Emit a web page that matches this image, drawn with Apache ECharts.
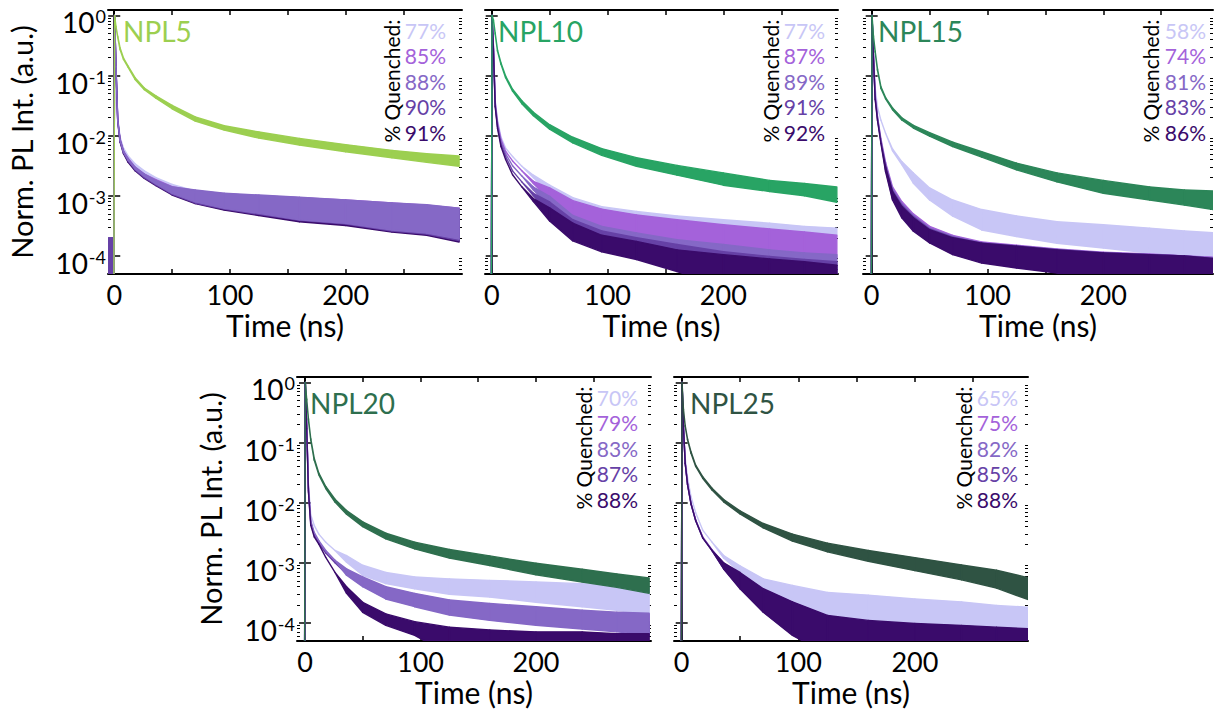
<!DOCTYPE html>
<html><head><meta charset="utf-8">
<script src="https://cdn.jsdelivr.net/npm/echarts@6/dist/echarts.min.js"></script>
<style>html,body{margin:0;padding:0;background:#fff}#c{width:1221px;height:719px}</style>
</head><body><div id="c"></div>
<script>
// ---------- shared time grid (ns) ----------
const T = [-5, -0.3, 0.3, 1.5, 3, 5, 8, 12, 18, 26, 36, 50, 70, 95, 125, 160, 200, 240, 270, 298];

// ---------- tick labels / texts ----------
const xTickValues = [0, 50, 100, 150, 200, 250];
const xLabelValues = [0, 100, 200];
const titles = ['NPL5', 'NPL10', 'NPL15', 'NPL20', 'NPL25'];
const pct5  = ['77%', '85%', '88%', '90%', '91%'];
const pct10 = ['77%', '87%', '89%', '91%', '92%'];
const pct15 = ['58%', '74%', '81%', '83%', '86%'];
const pct20 = ['70%', '79%', '83%', '87%', '88%'];
const pct25 = ['65%', '75%', '82%', '85%', '88%'];

// ---------- NPL5 (upper / lower envelope of each noisy trace) ----------
const g5_hi = [3e-5,3e-5,1,0.66,0.45,0.29,0.195,0.143,0.092,0.062,0.046,0.032,0.0205,0.0146,0.0115,0.009,0.0071,0.0057,0.005,0.0046];
const g5_lo = [3e-5,3e-5,1,0.64,0.43,0.27,0.185,0.137,0.086,0.058,0.042,0.028,0.0175,0.0124,0.0091,0.007,0.0054,0.0043,0.0036,0.0031];
const p5_77_hi = [3e-5,3e-5,1,0.15,0.02,0.0095,0.0062,0.0046,0.0034,0.0026,0.002,0.00155,0.0012,0.001,0.00093,0.00085,0.00078,0.0007,0.00065,0.0006];
const p5_77_lo = [3e-5,3e-5,1,0.15,0.02,0.0092,0.006,0.0044,0.0032,0.0024,0.0018,0.0012,0.0008,0.00064,0.00053,0.00043,0.00037,0.0003,0.00027,0.00022];
const p5_85_hi = [3e-5,3e-5,1,0.14,0.019,0.0088,0.0056,0.0042,0.003,0.0023,0.00185,0.00142,0.00122,0.00108,0.001,0.00093,0.00085,0.00076,0.0007,0.00062];
const p5_85_lo = [3e-5,3e-5,1,0.14,0.019,0.0085,0.0054,0.004,0.0028,0.0021,0.0016,0.00112,0.0008,0.00063,0.00052,0.00041,0.00035,0.00028,0.00024,0.0002];
const p5_88_hi = [3e-5,3e-5,1,0.14,0.018,0.0087,0.0055,0.0041,0.003,0.0023,0.0018,0.0014,0.00125,0.0011,0.00103,0.00095,0.00085,0.00076,0.00071,0.00062];
const p5_88_lo = [3e-5,3e-5,1,0.14,0.018,0.0083,0.0053,0.0039,0.0028,0.0021,0.00158,0.0011,0.00079,0.00062,0.00051,0.0004,0.00035,0.00027,0.00024,0.00019];
const p5_90_hi = [2e-4,2e-4,1,0.135,0.018,0.0085,0.0054,0.004,0.0029,0.0022,0.00175,0.00135,0.0012,0.00105,0.00098,0.0009,0.00082,0.00074,0.00068,0.0006];
const p5_90_lo = [3e-5,3e-5,1,0.135,0.018,0.0081,0.0052,0.0038,0.0027,0.002,0.00152,0.00106,0.00076,0.0006,0.00049,0.00039,0.00034,0.00026,0.00023,0.00018];
const p5_91_hi = [3e-5,3e-5,1,0.13,0.017,0.0082,0.0052,0.0038,0.0028,0.0021,0.0017,0.0013,0.00115,0.001,0.00094,0.00086,0.0008,0.00072,0.00066,0.00058];
const p5_91_lo = [3e-5,3e-5,1,0.13,0.017,0.0078,0.005,0.0036,0.0026,0.00195,0.00148,0.00103,0.00074,0.00058,0.00047,0.00037,0.00032,0.00025,0.00022,0.00017];

// ---------- NPL10 ----------
const g10_hi = [3e-5,3e-5,1,0.84,0.51,0.265,0.162,0.098,0.059,0.038,0.0245,0.0152,0.0094,0.0061,0.0043,0.0032,0.0024,0.0018,0.0016,0.0014];
const g10_lo = [3e-5,3e-5,1,0.82,0.49,0.255,0.154,0.092,0.055,0.034,0.0215,0.0128,0.0076,0.0047,0.0031,0.0022,0.0015,0.00118,0.001,0.00078];
const p10_77_hi = [3e-5,3e-5,1,0.316,0.0389,0.0182,0.0095,0.0062,0.0045,0.0031,0.0022,0.0015,0.00093,0.00066,0.00055,0.00046,0.0004,0.00035,0.00031,0.00029];
const p10_77_lo = [3e-5,3e-5,1,0.316,0.0389,0.0182,0.0095,0.0062,0.0045,0.0031,0.002,0.0011,0.00062,0.00048,0.0004,0.00033,0.00029,0.00026,0.00022,0.00021];
const p10_87_hi = [3e-5,3e-5,1,0.302,0.0363,0.0166,0.0087,0.0055,0.0038,0.0026,0.00174,0.00135,0.00083,0.0006,0.00048,0.0004,0.00033,0.00028,0.00025,0.00022];
const p10_87_lo = [3e-5,3e-5,1,0.302,0.0363,0.0166,0.0087,0.0055,0.0038,0.0026,0.0016,0.00085,0.0004,0.00029,0.00022,0.00017,0.000135,0.000117,0.000105,0.000093];
const p10_89_hi = [3e-5,3e-5,1,0.282,0.0339,0.0151,0.0079,0.005,0.00316,0.00214,0.0014,0.00098,0.00047,0.00031,0.00024,0.000186,0.000155,0.000126,0.000112,0.000105];
const p10_89_lo = [3e-5,3e-5,1,0.282,0.0339,0.0151,0.0079,0.005,0.00316,0.00214,0.00125,0.00066,0.00028,0.00019,0.000135,9.8e-5,6.8e-5,5.9e-5,5.2e-5,4e-5];
const p10_91_hi = [3e-5,3e-5,1,0.269,0.0316,0.0141,0.0072,0.0045,0.0026,0.0017,0.0011,0.00079,0.0004,0.00026,0.0002,0.000155,0.000117,9.8e-5,8.7e-5,8e-5];
const p10_91_lo = [3e-5,3e-5,1,0.269,0.0316,0.0141,0.0072,0.0045,0.0026,0.0017,0.001,0.0005,0.00024,0.000155,0.000112,7.1e-5,4e-5,3e-5,3e-5,3e-5];
const p10_92_hi = [3e-5,3e-5,1,0.251,0.0302,0.0132,0.0066,0.004,0.00224,0.00141,0.0009,0.00063,0.00035,0.00022,0.000174,0.000126,0.000105,8.9e-5,8e-5,7e-5];
const p10_92_lo = [3e-5,3e-5,1,0.251,0.0302,0.0132,0.0066,0.004,0.00224,0.00141,0.0008,0.00038,0.000178,0.000117,8.7e-5,5.5e-5,3e-5,3e-5,3e-5,3e-5];

// ---------- NPL15 ----------
const g15_hi = [3e-5,3e-5,1,0.46,0.255,0.129,0.065,0.043,0.029,0.0198,0.0148,0.0112,0.0078,0.0054,0.0035,0.0024,0.0018,0.0014,0.00125,0.0012];
const g15_lo = [3e-5,3e-5,1,0.44,0.245,0.123,0.061,0.041,0.027,0.0182,0.0134,0.0098,0.0066,0.0044,0.0027,0.0017,0.0011,0.00085,0.0007,0.00058];
const p15_58_hi = [3e-5,3e-5,1,0.25,0.063,0.03,0.018,0.011,0.006,0.0037,0.0024,0.00135,0.00085,0.00059,0.00046,0.00037,0.00033,0.00029,0.00026,0.00024];
const p15_58_lo = [3e-5,3e-5,1,0.25,0.063,0.03,0.018,0.011,0.0056,0.0033,0.00162,0.00085,0.00046,0.00027,0.00021,0.000162,0.000135,0.000112,0.0001,8.7e-5];
const p15_74_hi = [3e-5,3e-5,1,0.22,0.048,0.021,0.0088,0.0036,0.0014,0.0008,0.0005,0.00031,0.00022,0.00017,0.00015,0.00013,0.000115,0.000108,0.0001,9.5e-5];
const p15_74_lo = [3e-5,3e-5,1,0.22,0.048,0.021,0.0088,0.0032,0.0011,0.00058,0.00033,0.0002,0.00013,9e-5,7.5e-5,6e-5,4e-5,3e-5,3e-5,3e-5];
const p15_81_hi = [3e-5,3e-5,1,0.21,0.045,0.02,0.0082,0.0033,0.0013,0.00074,0.00047,0.00029,0.00021,0.000165,0.000147,0.000128,0.000113,0.000106,0.0001,9.2e-5];
const p15_81_lo = [3e-5,3e-5,1,0.21,0.045,0.02,0.0082,0.0029,0.001,0.00052,0.0003,0.00018,0.00012,8.5e-5,7e-5,5.6e-5,3.5e-5,3e-5,3e-5,3e-5];
const p15_83_hi = [3e-5,3e-5,1,0.205,0.042,0.019,0.0078,0.0031,0.00122,0.0007,0.00045,0.00028,0.000205,0.000163,0.000146,0.000127,0.000112,0.000105,0.0001,9e-5];
const p15_83_lo = [3e-5,3e-5,1,0.205,0.042,0.019,0.0078,0.0027,0.0009,0.00047,0.00028,0.00017,0.00011,8e-5,6.6e-5,5.4e-5,3e-5,3e-5,3e-5,3e-5];
const p15_86_hi = [3e-5,3e-5,1,0.2,0.04,0.018,0.0074,0.003,0.00117,0.00066,0.00043,0.000272,0.0002,0.000162,0.000145,0.000126,0.000112,0.000105,0.0001,9e-5];
const p15_86_lo = [3e-5,3e-5,1,0.2,0.04,0.018,0.0074,0.0025,0.00085,0.00043,0.000257,0.000164,0.000105,7.6e-5,6.3e-5,5.2e-5,3e-5,3e-5,3e-5,3e-5];

// ---------- NPL20 ----------
const g20_hi = [3e-5,3e-5,1,0.53,0.25,0.116,0.055,0.031,0.0186,0.0114,0.0074,0.0048,0.0031,0.0022,0.00166,0.0013,0.00098,0.00078,0.00065,0.00056];
const g20_lo = [3e-5,3e-5,1,0.51,0.238,0.11,0.051,0.029,0.0172,0.0102,0.0064,0.004,0.0025,0.0017,0.0012,0.0009,0.00063,0.00048,0.00039,0.00031];
const p20_70_hi = [3e-5,3e-5,1,0.2,0.02,0.0063,0.0042,0.003,0.0022,0.0016,0.00132,0.00091,0.00069,0.00058,0.00054,0.00051,0.00048,0.00045,0.00042,0.00039];
const p20_70_lo = [3e-5,3e-5,1,0.2,0.02,0.0063,0.0042,0.003,0.0022,0.0016,0.00102,0.00062,0.00045,0.00037,0.0003,0.00027,0.00022,0.000186,0.000162,0.000135];
const p20_79_hi = [3e-5,3e-5,1,0.185,0.017,0.0048,0.003,0.0022,0.0015,0.00104,0.00075,0.00055,0.00038,0.00029,0.00023,0.0002,0.000177,0.000154,0.000143,0.000138];
const p20_79_lo = [3e-5,3e-5,1,0.185,0.017,0.0048,0.003,0.0022,0.0015,0.00104,0.00065,0.00042,0.00026,0.000195,0.00014,0.000115,9.5e-5,8.3e-5,7.5e-5,6.5e-5];
const p20_83_hi = [3e-5,3e-5,1,0.19,0.018,0.005,0.0032,0.00234,0.0016,0.0011,0.00079,0.00058,0.0004,0.00031,0.00024,0.00021,0.000186,0.000162,0.000151,0.000145];
const p20_83_lo = [3e-5,3e-5,1,0.19,0.018,0.005,0.0032,0.00234,0.0016,0.0011,0.00062,0.0004,0.00025,0.000186,0.000135,0.00011,9.1e-5,7.9e-5,7.1e-5,6.2e-5];
const p20_87_hi = [3e-5,3e-5,1,0.18,0.016,0.0046,0.0029,0.0021,0.00145,0.001,0.0007,0.0005,0.00033,0.00025,0.00019,0.00016,0.00014,0.00012,0.00011,0.000105];
const p20_87_lo = [3e-5,3e-5,1,0.18,0.016,0.0046,0.0029,0.0021,0.00145,0.001,0.00065,0.00042,0.00026,0.000195,0.00014,0.000115,9.5e-5,8.3e-5,7.5e-5,6.5e-5];
const p20_88_hi = [3e-5,3e-5,1,0.17,0.015,0.0042,0.0027,0.00204,0.00123,0.00069,0.0004,0.00022,0.000141,0.000105,8.5e-5,7.6e-5,7.1e-5,7.1e-5,6.6e-5,6.6e-5];
const p20_88_lo = [3e-5,3e-5,1,0.17,0.015,0.0042,0.0027,0.00204,0.00123,0.00069,0.00031,0.00015,9.1e-5,6.2e-5,3e-5,3e-5,3e-5,3e-5,3e-5,3e-5];

// ---------- NPL25 ----------
const g25_hi = [3e-5,3e-5,1,0.36,0.192,0.115,0.07,0.042,0.027,0.0174,0.0113,0.0073,0.0045,0.003,0.00212,0.0016,0.00122,0.00092,0.00075,0.00056];
const g25_lo = [3e-5,3e-5,1,0.35,0.186,0.111,0.066,0.04,0.0255,0.0162,0.0103,0.0065,0.0038,0.0023,0.00152,0.00106,0.00074,0.00052,0.00038,0.00024];
const p25_65_hi = [3e-5,3e-5,1,0.19,0.056,0.026,0.0126,0.0068,0.0035,0.0022,0.00132,0.00089,0.00054,0.00042,0.00032,0.00029,0.00025,0.000224,0.000195,0.000182];
const p25_65_lo = [3e-5,3e-5,1,0.19,0.056,0.026,0.0126,0.0068,0.0035,0.0022,0.0012,0.00069,0.00032,0.000195,0.000133,0.000104,8e-5,6.6e-5,5.9e-5,5.1e-5];
const p25_75_hi = [3e-5,3e-5,1,0.18,0.047,0.021,0.0098,0.0052,0.0027,0.00165,0.00098,0.00066,0.00036,0.00022,0.00013,0.000105,9.5e-5,8.8e-5,8.2e-5,7.8e-5];
const p25_75_lo = [3e-5,3e-5,1,0.18,0.047,0.021,0.0098,0.0052,0.0027,0.00165,0.00082,0.0004,0.00016,7e-5,3e-5,3e-5,3e-5,3e-5,3e-5,3e-5];
const p25_82_hi = [3e-5,3e-5,1,0.179,0.046,0.0205,0.0096,0.0051,0.00265,0.00162,0.00096,0.00064,0.00035,0.00021,0.000125,0.0001,9e-5,8.5e-5,8e-5,7.5e-5];
const p25_82_lo = [3e-5,3e-5,1,0.179,0.046,0.0205,0.0096,0.0051,0.00265,0.00162,0.0008,0.00039,0.000155,6.6e-5,3e-5,3e-5,3e-5,3e-5,3e-5,3e-5];
const p25_85_hi = [3e-5,3e-5,1,0.178,0.0455,0.0202,0.0095,0.00505,0.0026,0.0016,0.00097,0.00065,0.00034,0.00021,0.00012,0.0001,9e-5,8.5e-5,8e-5,7.5e-5];
const p25_85_lo = [3e-5,3e-5,1,0.178,0.0455,0.0202,0.0095,0.00505,0.0026,0.0016,0.0008,0.00038,0.000152,6.4e-5,3e-5,3e-5,3e-5,3e-5,3e-5,3e-5];
const p25_88_hi = [3e-5,3e-5,1,0.178,0.045,0.02,0.0095,0.005,0.0026,0.0016,0.001,0.00069,0.00037,0.000224,0.000133,0.00011,9.8e-5,9.1e-5,8.5e-5,8e-5];
const p25_88_lo = [3e-5,3e-5,1,0.178,0.045,0.02,0.0095,0.005,0.0026,0.0016,0.00079,0.00037,0.000151,6.2e-5,3e-5,3e-5,3e-5,3e-5,3e-5,3e-5];

// ---------- styles ----------
const Q = ['#c8c6f6', '#a462da', '#8568c6', '#6641a6', '#3a0b6b'];
const G = ['#9ccf50', '#28a464', '#2c8659', '#2e6f4e', '#2f5343'];
const FONT = 'Lato, "Open Sans", sans-serif';
const YMIN = 5e-5, YMAX = 1.23;

const panels = [
  { grid: {left:108, top:10, width:354, height:264}, xr: [-5.4, 300.5], tdx: 15, tdy: 21, qdx: -71, pdx: -16, yLab: true, pct: pct5,
    series: [[p5_77_hi,p5_77_lo,Q[0]],[p5_85_hi,p5_85_lo,Q[1]],[p5_91_hi,p5_91_lo,Q[4]],[p5_90_hi,p5_90_lo,Q[3]],[p5_88_hi,p5_88_lo,Q[2]],[g5_hi,g5_lo,G[0]]] },
  { grid: {left:485, top:10, width:353, height:264}, xr: [-5.8, 299], tdx: 13, tdy: 21, qdx: -68, pdx: -13, yLab: false, pct: pct10,
    series: [[p10_77_hi,p10_77_lo,Q[0]],[p10_87_hi,p10_87_lo,Q[1]],[p10_89_hi,p10_89_lo,Q[2]],[p10_91_hi,p10_91_lo,Q[3]],[p10_92_hi,p10_92_lo,Q[4]],[g10_hi,g10_lo,G[1]]] },
  { grid: {left:863, top:10, width:350, height:264}, xr: [-7.5, 294.7], tdx: 15, tdy: 21, qdx: -63, pdx: -7, yLab: false, pct: pct15,
    series: [[p15_58_hi,p15_58_lo,Q[0]],[p15_74_hi,p15_74_lo,Q[1]],[p15_81_hi,p15_81_lo,Q[2]],[p15_83_hi,p15_83_lo,Q[3]],[p15_86_hi,p15_86_lo,Q[4]],[g15_hi,g15_lo,G[2]]] },
  { grid: {left:297, top:377, width:354, height:264}, xr: [-6.9, 299.6], tdx: 13, tdy: 26, qdx: -68, pdx: -13, yLab: true, pct: pct20,
    series: [[p20_70_hi,p20_70_lo,Q[0]],[p20_79_hi,p20_79_lo,Q[1]],[p20_87_hi,p20_87_lo,Q[3]],[p20_83_hi,p20_83_lo,Q[2]],[p20_88_hi,p20_88_lo,Q[4]],[g20_hi,g20_lo,G[3]]] },
  { grid: {left:674, top:377, width:354, height:264}, xr: [-6.6, 297], tdx: 16, tdy: 26, qdx: -65, pdx: -10, yLab: false, pct: pct25,
    series: [[p25_65_hi,p25_65_lo,Q[0]],[p25_75_hi,p25_75_lo,Q[1]],[p25_82_hi,p25_82_lo,Q[2]],[p25_85_hi,p25_85_lo,Q[3]],[p25_88_hi,p25_88_lo,Q[4]],[g25_hi,g25_lo,G[4]]] }
];

// minor log ticks (positions in log10 space)
const LMIN = Math.log10(YMIN), LMAX = Math.log10(YMAX);
const minorTicks = [];
for (let d = -5; d <= 0; d++) for (let k = 2; k <= 9; k++) { const v = d + Math.log10(k); if (v > LMIN && v < LMAX) minorTicks.push(v); }

function supLabel(v) {
  const l = Math.log10(v), e = Math.round(l);
  if (Math.abs(l - e) > 1e-6) return '';
  return '{b|10}{s|' + e + '}';
}

const line = {color:'#000', width:2};
const grids = [], xAxes = [], yAxes = [], series = [], graphics = [];
panels.forEach((p, k) => {
  grids.push(Object.assign({show:false, containLabel:false, outerBoundsMode:'none'}, p.grid));
  const xCommon = { type:'value', gridIndex:k, min:p.xr[0], max:p.xr[1], splitLine:{show:false},
    axisLine:{show:true, onZero:false, lineStyle:line},
    axisTick:{show:true, inside:true, length:5, customValues:xTickValues, lineStyle:{color:'#000', width:1.5}} };
  xAxes.push(Object.assign({}, xCommon, { position:'bottom',
    axisLabel:{show:true, customValues:xLabelValues, margin:7, color:'#000', fontSize:27, fontFamily:FONT},
    name:'Time (ns)', nameLocation:'middle', nameGap:36, nameTextStyle:{color:'#000', fontSize:30, fontFamily:FONT} }));
  xAxes.push(Object.assign({}, xCommon, { position:'top', axisLabel:{show:false} }));
  const yCommon = { type:'log', logBase:10, gridIndex:k, min:YMIN, max:YMAX, splitLine:{show:false}, minorTick:{show:false},
    axisLine:{show:true, lineStyle:line}, axisTick:{show:true, inside:true, length:6, lineStyle:{color:'#000', width:1.5}} };
  yAxes.push(Object.assign({}, yCommon, { position:'left',
    axisLabel:{show:p.yLab, margin:2, formatter:supLabel, padding:[14, 0, 0, 0],
      rich:{ b:{fontSize:28, fontFamily:FONT, color:'#000', lineHeight:30},
             s:{fontSize:18, fontFamily:FONT, color:'#000', lineHeight:22, verticalAlign:'top', padding:[0,0,0,1]} } },
    name: p.yLab ? 'Norm. PL Int. (a.u.)' : '', nameLocation:'middle', nameGap:72,
    nameTextStyle:{color:'#000', fontSize:29, fontFamily:FONT} }));
  yAxes.push(Object.assign({}, yCommon, { position:'right', axisLabel:{show:false} }));
  const mCommon = { type:'value', gridIndex:k, min:LMIN, max:LMAX, splitLine:{show:false}, axisLine:{show:false}, axisLabel:{show:false},
    axisTick:{show:true, inside:true, length:3, customValues:minorTicks, lineStyle:{color:'#000', width:1}} };
  yAxes.push(Object.assign({}, mCommon, {position:'left'}));
  yAxes.push(Object.assign({}, mCommon, {position:'right'}));

  p.series.forEach(([hi, lo, color]) => {
    const data = T.map((t, i) => [t, hi[i], lo[i]]);
    series.push({ type:'custom', xAxisIndex:2*k, yAxisIndex:4*k, data, clip:true, silent:true,
      encode:{x:0, y:[1, 2]},
      renderItem(params, api) {
        const i = params.dataIndex;
        if (i >= data.length - 1) return null;
        const a = data[i], b = data[i + 1];
        const pts = [api.coord([a[0], a[1]]), api.coord([b[0], b[1]]), api.coord([b[0], b[2]]), api.coord([a[0], a[2]])];
        return { type:'polygon', shape:{points:pts}, style:{fill:color, stroke:color, lineWidth:1.4, lineJoin:'round'} };
      } });
  });

  const g = p.grid, right = g.left + g.width;
  graphics.push({ type:'text', x:g.left + p.tdx, y:g.top + p.tdy,
    style:{text:titles[k], fill:G[k], fontSize:28, fontFamily:FONT, align:'left', verticalAlign:'middle'} });
  graphics.push({ type:'text', x:right + p.qdx, y:g.top + 71, rotation:Math.PI / 2,
    style:{text:'% Quenched:', fill:'#000', fontSize:21, fontFamily:FONT, align:'center', verticalAlign:'middle'} });
  p.pct.forEach((s, j) => graphics.push({ type:'text', x:right + p.pdx, y:g.top + 20 + 25.6 * j,
    style:{text:s, fill:Q[j], fontSize:21, fontFamily:FONT, align:'right', verticalAlign:'middle'} }));
});

const chart = echarts.init(document.getElementById('c'), null, {renderer:'svg', width:1221, height:719});
chart.setOption({ animation:false, backgroundColor:'#fff', grid:grids, xAxis:xAxes, yAxis:yAxes, series, graphic:graphics });
</script></body></html>
